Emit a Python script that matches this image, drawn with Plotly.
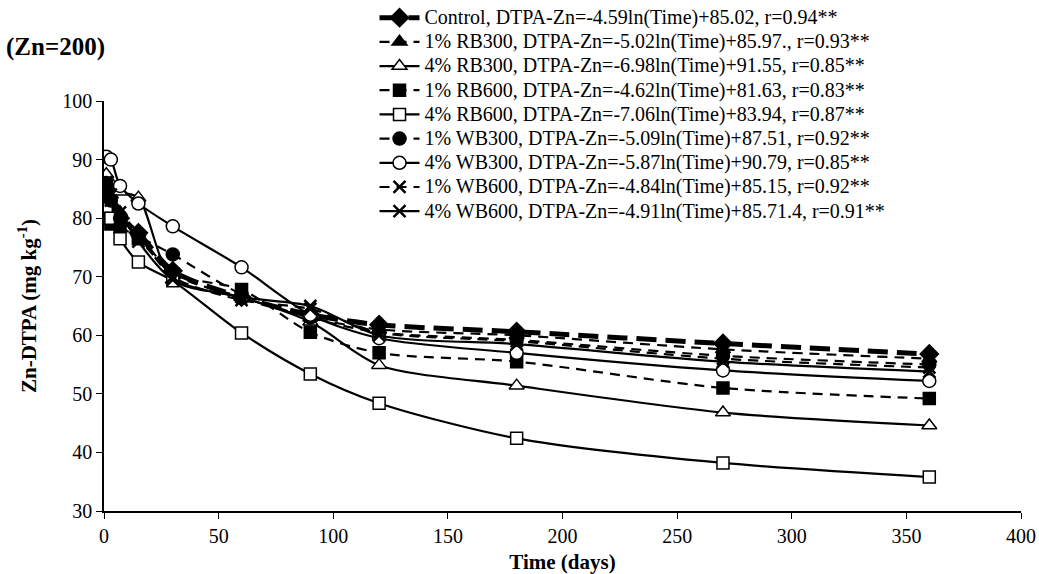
import plotly.graph_objects as go

time_days = [1, 3, 7, 15, 30, 60, 90, 120, 180, 270, 360]

control = [85.0, 82.0, 80.0, 77.5, 71.0, 66.5, 63.5, 61.8, 60.6, 58.6, 56.8]
rb300_1 = [87.0, 84.0, 81.0, 77.5, 70.5, 66.5, 63.0, 61.0, 60.0, 57.6, 56.0]
rb300_4 = [87.5, 86.0, 84.5, 83.5, 69.5, 66.5, 62.3, 54.9, 51.4, 46.8, 44.6]
rb600_1 = [80.0, 79.0, 78.5, 76.5, 70.5, 67.8, 60.5, 57.0, 55.5, 51.0, 49.2]
rb600_4 = [82.0, 80.0, 76.5, 72.5, 69.3, 60.4, 53.4, 48.4, 42.4, 38.2, 35.8]
wb300_1 = [86.0, 83.0, 80.0, 77.0, 73.8, 67.0, 63.0, 60.5, 59.2, 56.5, 55.0]
wb300_4 = [90.5, 90.0, 85.5, 82.5, 78.6, 71.6, 63.5, 59.5, 57.0, 54.0, 52.2]
wb600_1 = [85.0, 83.0, 80.0, 77.0, 70.0, 66.0, 64.5, 60.5, 59.0, 56.0, 54.5]
wb600_4 = [86.0, 84.0, 81.0, 76.0, 69.5, 66.5, 65.0, 60.0, 58.5, 55.5, 53.8]

series_names = [
    "Control, DTPA-Zn=-4.59ln(Time)+85.02, r=0.94**",
    "1% RB300, DTPA-Zn=-5.02ln(Time)+85.97., r=0.93**",
    "4% RB300, DTPA-Zn=-6.98ln(Time)+91.55, r=0.85**",
    "1% RB600, DTPA-Zn=-4.62ln(Time)+81.63, r=0.83**",
    "4% RB600, DTPA-Zn=-7.06ln(Time)+83.94, r=0.87**",
    "1% WB300, DTPA-Zn=-5.09ln(Time)+87.51, r=0.92**",
    "4% WB300, DTPA-Zn=-5.87ln(Time)+90.79, r=0.85**",
    "1% WB600, DTPA-Zn=-4.84ln(Time)+85.15, r=0.92**",
    "4% WB600, DTPA-Zn=-4.91ln(Time)+85.71.4, r=0.91**",
]
series_values = [control, rb300_1, rb300_4, rb600_1, rb600_4, wb300_1, wb300_4, wb600_1, wb600_4]

# style: (dash, line width, marker symbol, marker fill, marker size)
THIN_DASH = "10px,7px"
styles = [
    ("20px,9px", 5, "diamond", "black", 14),
    (THIN_DASH, 2.2, "triangle-up", "black", 13),
    ("solid", 2.2, "triangle-up", "white", 13),
    (THIN_DASH, 2.2, "square", "black", 12),
    ("solid", 2.2, "square", "white", 12),
    (THIN_DASH, 2.2, "circle", "black", 13),
    ("solid", 2.2, "circle", "white", 13),
    (THIN_DASH, 2.2, "x-thin-open", "black", 12),
    ("solid", 2.2, "x-thin-open", "black", 12),
]

FONT = "Liberation Serif, Times New Roman, serif"

fig = go.Figure()
for name, vals, (dash, lw, sym, fill, ms) in zip(series_names, series_values, styles):
    fig.add_trace(go.Scatter(
        x=time_days, y=vals,
        name="<span style='font-size:20px'>" + name + "</span>",
        mode="lines+markers",
        line=dict(color="black", width=lw, dash=dash, shape="spline", smoothing=0.8),
        marker=dict(symbol=sym, size=ms, color=fill,
                    line=dict(color="black", width=2.5 if "x" in sym else 1.5)),
    ))

fig.update_layout(
    width=1039, height=574,
    margin=dict(l=104, r=18, t=101, b=63, autoexpand=False),
    paper_bgcolor="white", plot_bgcolor="white",
    font=dict(family=FONT, color="black"),
    showlegend=True,
    legend=dict(x=0.295, y=1.245, xanchor="left", yanchor="top",
                bgcolor="rgba(0,0,0,0)", font=dict(size=16.3, family=FONT),
                tracegroupgap=0, itemwidth=40),
    annotations=[dict(text="<b>(Zn=200)</b>", x=-0.109, y=1.132, xref="paper", yref="paper",
                      xanchor="left", yanchor="middle", showarrow=False,
                      font=dict(size=25, family=FONT))],
)
fig.update_xaxes(range=[0, 400], dtick=50, showline=True, linecolor="black", linewidth=1.5,
                 ticks="outside", ticklen=6, tickcolor="black", showgrid=False, zeroline=False,
                 tickfont=dict(size=20, family=FONT),
                 title=dict(text="<b>Time (days)</b>", font=dict(size=21, family=FONT), standoff=10))
fig.update_yaxes(range=[30, 100], dtick=10, showline=True, linecolor="black", linewidth=1.5,
                 ticks="outside", ticklen=6, tickcolor="black", showgrid=False, zeroline=False,
                 tickfont=dict(size=20, family=FONT),
                 title=dict(text="<b>Zn-DTPA (mg kg<sup>-1</sup>)</b>", font=dict(size=21, family=FONT), standoff=20))

fig.write_html("out.html", config={"displayModeBar": False},
               post_script="document.body.style.margin='0px';document.body.style.overflow='hidden';")
